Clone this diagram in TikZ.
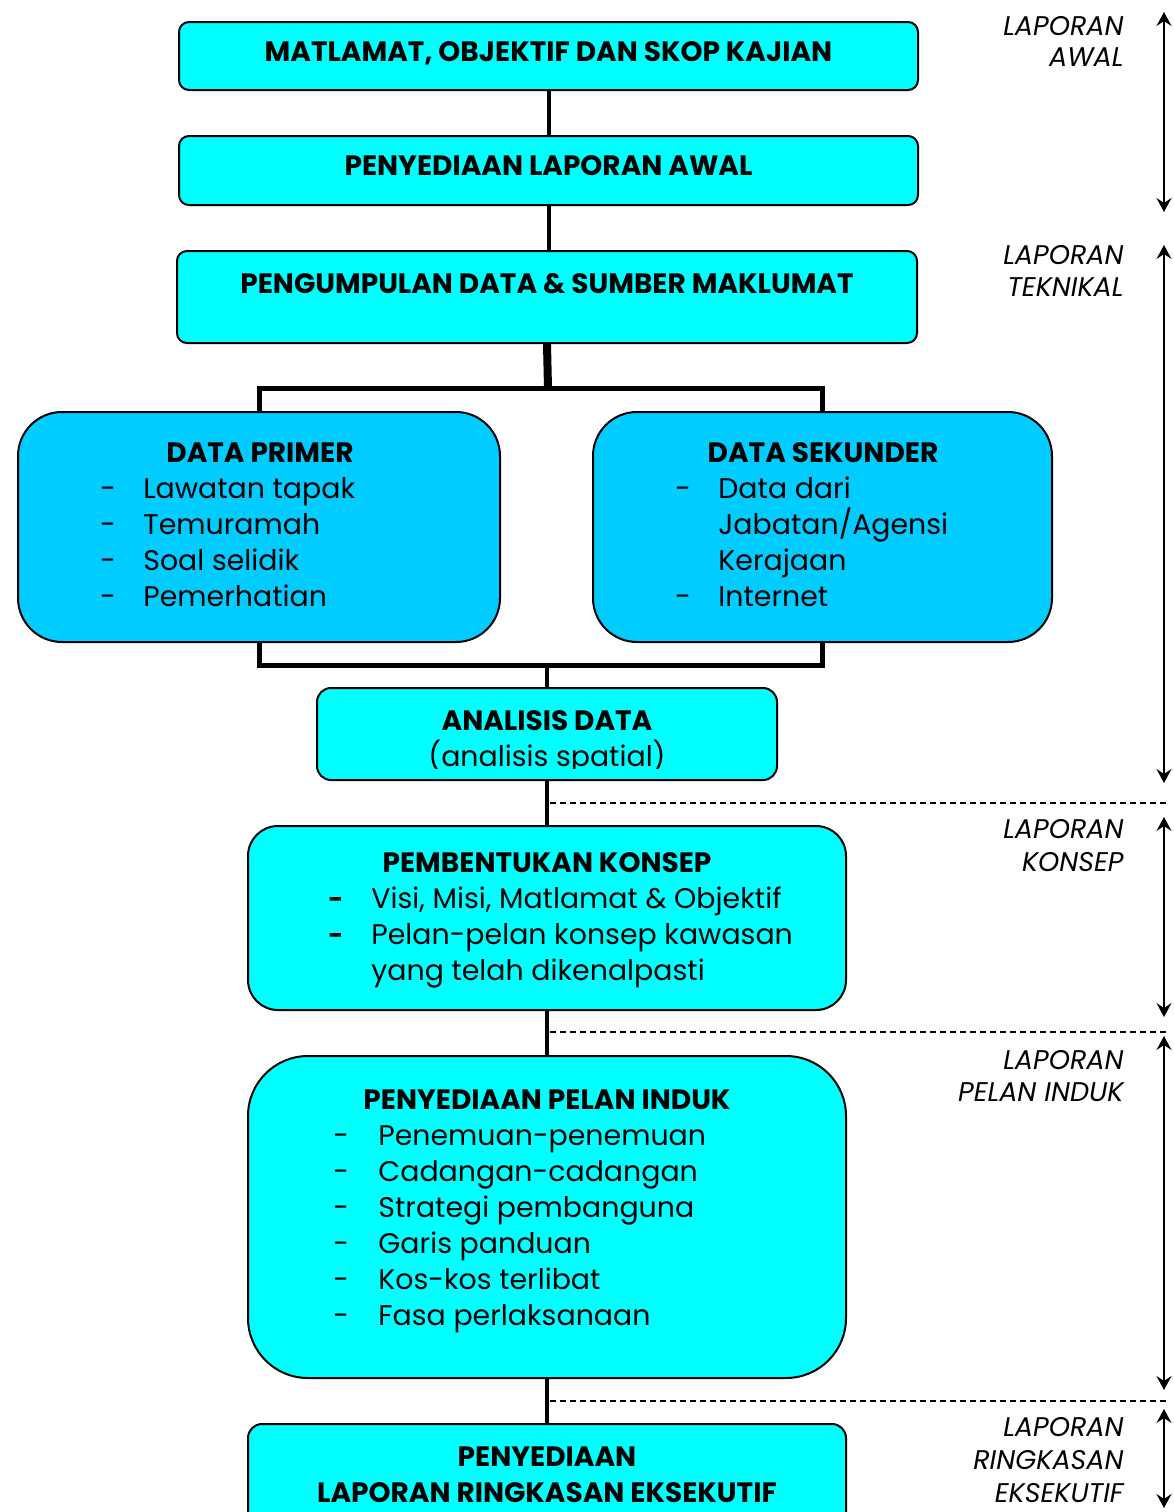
\documentclass[tikz,border=0pt]{standalone}
\usepackage{fontspec}
\setmainfont{Poppins}
\usetikzlibrary{arrows.meta}

\definecolor{stagecyan}{HTML}{00FFFF}
\definecolor{datablue}{HTML}{00CCFF}

\tikzset{
  stagebox/.style={draw, line width=1pt, fill=stagecyan, inner sep=0pt},
  databox/.style={draw, line width=1pt, fill=datablue, inner sep=0pt, rounded corners=22pt},
  head/.style={font=\bfseries\fontsize{14}{17}\selectfont, anchor=base, inner sep=0pt},
  item/.style={font=\fontsize{14.2}{18}\selectfont, anchor=base west, inner sep=0pt},
  side/.style={font=\itshape\fontsize{13.5}{16}\selectfont, anchor=base east, inner sep=0pt},
  link/.style={line width=2pt},
  fork/.style={line width=2.5pt},
  span/.style={{Stealth[length=7pt,width=7.5pt,inset=2.5pt]}-{Stealth[length=7pt,width=7.5pt,inset=2.5pt]}, line width=1pt},
  cut/.style={line width=0.8pt, dash pattern=on 3pt off 2pt}
}

\begin{document}
\begin{tikzpicture}[x=0.5pt,y=-0.5pt]
    \useasboundingbox (0,0) rectangle (1174,1512);

    % boxes
    \node[stagebox, rounded corners=5pt, minimum width=369.5pt, minimum height=34pt] (tujuan) at (548.5,56) {};
    \node[stagebox, rounded corners=5pt, minimum width=369.5pt, minimum height=34.5pt] (awal) at (548.5,170.5) {};
    \node[stagebox, rounded corners=5pt, minimum width=370pt, minimum height=46pt] (kumpul) at (547,297) {};
    \node[databox, minimum width=241pt, minimum height=115pt] (primer) at (259,527) {};
    \node[databox, minimum width=229.5pt, minimum height=115pt] (sekunder) at (822.5,527) {};
    \node[stagebox, rounded corners=7pt, minimum width=230pt, minimum height=46pt] (analisis) at (547,734) {};
    \node[stagebox, rounded corners=15pt, minimum width=299pt, minimum height=92pt] (konsep) at (547,918) {};
    \node[stagebox, rounded corners=30pt, minimum width=299pt, minimum height=161pt] (induk) at (547,1217) {};
    \node[stagebox, rounded corners=7pt, minimum width=299pt, minimum height=53pt] (ringkas) at (547,1477) {};

    % connectors
    \draw[link] (tujuan.south) -- (awal.north);
    \draw[link] (awal.south) -- (awal.south |- kumpul.north);
    \coordinate (pecah) at (548,388);
    \draw[line width=4pt] (kumpul.south) -- (pecah);
    \draw[fork] (primer.north) |- (pecah) -| (sekunder.north);
    \coordinate (gabung) at (547,665);
    \draw[fork] (primer.south) |- (gabung) -| (sekunder.south);
    \draw[link] (gabung) -- (analisis.north);
    \draw[link] (analisis.south) -- (konsep.north);
    \draw[link] (konsep.south) -- (induk.north);
    \draw[link] (induk.south) -- (ringkas.north);

    % headings
    \node[head] (tujuan-t) at (548.5,61) {MATLAMAT, OBJEKTIF DAN SKOP KAJIAN};
    \node[head] (awal-t) at (548.5,175) {PENYEDIAAN LAPORAN AWAL};
    \node[head] (kumpul-t) at (547,293) {PENGUMPULAN DATA \& SUMBER MAKLUMAT};
    \node[head] (primer-t) at (260,462) {DATA PRIMER};
    \node[head] (sekunder-t) at (823,462) {DATA SEKUNDER};
    \node[head] (analisis-t) at (547,730) {ANALISIS DATA};
    \node[head] (konsep-t) at (547,872) {PEMBENTUKAN KONSEP};
    \node[head] (induk-t) at (547,1109) {PENYEDIAAN PELAN INDUK};
    \node[head] (ringkas-t1) at (547,1466) {PENYEDIAAN};
    \node[head] (ringkas-t2) at (547,1502) {LAPORAN RINGKASAN EKSEKUTIF};

    % lists
    \foreach \txt [count=\i] in {Lawatan tapak, Temuramah, Soal selidik, Pemerhatian} {
      \node[item] (primer-d\i) at (100,{498+36*(\i-1)}) {-};
      \node[item] (primer-\i) at (143,{498+36*(\i-1)}) {\txt};
    }
    \node[item] (sekunder-d1) at (675,498) {-};
    \node[item] (sekunder-1) at (718,498) {Data dari};
    \node[item] (sekunder-2) at (718,534) {Jabatan/Agensi};
    \node[item] (sekunder-3) at (718,570) {Kerajaan};
    \node[item] (sekunder-d4) at (675,606) {-};
    \node[item] (sekunder-4) at (718,606) {Internet};
    \begin{scope}
      \clip (318,689) rectangle (776,768);
      \node[item, anchor=base] (analisis-s) at (547,766) {(analisis spatial)};
    \end{scope}
    \node[item, font=\bfseries\fontsize{13}{18}\selectfont] (konsep-d1) at (328,908) {-};
    \node[item] (konsep-1) at (371,908) {Visi, Misi, Matlamat \& Objektif};
    \node[item, font=\bfseries\fontsize{13}{18}\selectfont] (konsep-d2) at (328,944) {-};
    \node[item] (konsep-2) at (371,944) {Pelan-pelan konsep kawasan};
    \node[item] (konsep-3) at (371,980) {yang telah dikenalpasti};
    \foreach \txt [count=\i] in {Penemuan-penemuan, Cadangan-cadangan, Strategi pembanguna, Garis panduan, Kos-kos terlibat, Fasa perlaksanaan} {
      \node[item] (induk-d\i) at (333,{1145+36*(\i-1)}) {-};
      \node[item] (induk-\i) at (378,{1145+36*(\i-1)}) {\txt};
    }

    % report stages on the right
    \foreach \y/\n in {803/1, 1032/2, 1401/3} {
      \coordinate (pisah\n-w) at (550,\y);
      \coordinate (pisah\n-e) at (1166,\y);
      \draw[cut] (pisah\n-w) -- (pisah\n-e);
    }
    \foreach \n/\a/\b in {awal/12/212, teknikal/245/783, konsep/817/1017, induk/1036/1390, ringkas/1409/1508} {
      \coordinate (lap-\n-atas) at (1164,\a);
      \coordinate (lap-\n-bawah) at (1164,\b);
      \draw[span] (lap-\n-atas) -- (lap-\n-bawah);
    }
    \node[side] (lap-awal-1) at (1124,35) {LAPORAN};
    \node[side] (lap-awal-2) at (1124,66) {AWAL};
    \node[side] (lap-teknikal-1) at (1124,264) {LAPORAN};
    \node[side] (lap-teknikal-2) at (1124,296) {TEKNIKAL};
    \node[side] (lap-konsep-1) at (1124,838) {LAPORAN};
    \node[side] (lap-konsep-2) at (1124,871) {KONSEP};
    \node[side] (lap-induk-1) at (1124,1069) {LAPORAN};
    \node[side] (lap-induk-2) at (1124,1101) {PELAN INDUK};
    \node[side] (lap-ringkas-1) at (1124,1436) {LAPORAN};
    \node[side] (lap-ringkas-2) at (1124,1469) {RINGKASAN};
    \node[side] (lap-ringkas-3) at (1124,1502) {EKSEKUTIF};
  \end{tikzpicture}
\end{document}
